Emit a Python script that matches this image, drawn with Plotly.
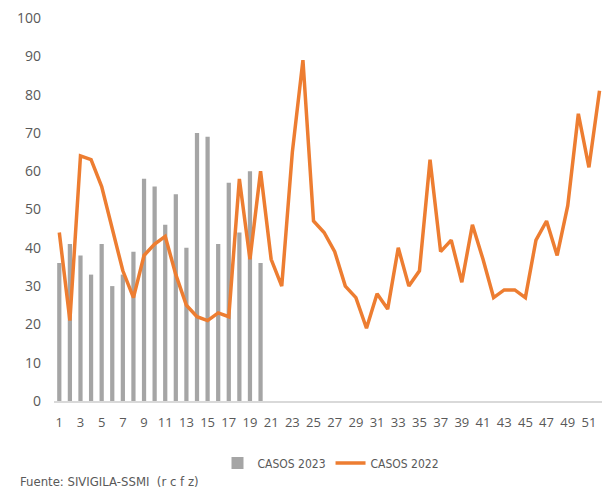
import plotly.graph_objects as go

weeks_2023 = list(range(1, 21))
casos_2023 = [36, 41, 38, 33, 41, 30, 33, 39, 58, 56, 46, 54, 40, 70, 69, 41, 57, 44, 60, 36]

weeks_2022 = list(range(1, 53))
casos_2022 = [44, 21, 64, 63, 56, 45, 34, 27, 38, 41, 43, 33, 25, 22, 21, 23, 22, 58, 37, 60,
              37, 30, 65, 89, 47, 44, 39, 30, 27, 19, 28, 24, 40, 30, 34, 63, 39, 42, 31, 46,
              37, 27, 29, 29, 27, 42, 47, 38, 51, 75, 61, 81]

x_ticks = list(range(1, 52, 2))
y_ticks = list(range(0, 101, 10))

narrow = "Liberation Sans Narrow, DejaVu Sans Condensed, Arial Narrow, sans-serif"

fig = go.Figure()
fig.add_trace(go.Bar(x=weeks_2023, y=casos_2023, name="CASOS 2023",
                     marker=dict(color="#A5A5A5", line=dict(width=0))))
fig.add_trace(go.Scatter(x=weeks_2022, y=casos_2022, name="CASOS 2022", mode="lines",
                         line=dict(color="#ED7D31", width=3.5)))

fig.update_layout(
    width=602, height=481,
    margin=dict(l=46, r=2, t=10, b=88, autoexpand=False),
    paper_bgcolor="white", plot_bgcolor="white",
    bargap=0.6,
    showlegend=True,
    legend=dict(orientation="h", x=0.5, xanchor="center", y=-0.162, yanchor="middle",
                font=dict(family=narrow, size=12, color="#595959"),
                itemwidth=30, traceorder="normal"),
    font=dict(family="Open Sans, sans-serif", color="#595959"),
)
fig.update_xaxes(range=[0.5, 52.8], tickvals=x_ticks, ticktext=[str(v) for v in x_ticks],
                 showgrid=False, zeroline=False, showline=True, linecolor="#D9D9D9", linewidth=1.5,
                 ticks="", tickfont=dict(size=13, color="#595959"), ticklabelstandoff=9,
                 automargin=False, fixedrange=True)
fig.update_yaxes(range=[0, 100], tickvals=y_ticks, ticktext=[str(v) for v in y_ticks],
                 showgrid=False, zeroline=False, showline=False,
                 ticks="", tickfont=dict(size=14, color="#595959"), ticklabelstandoff=12,
                 ticklabeloverflow="allow", automargin=False, fixedrange=True)

fig.add_annotation(text="Fuente: SIVIGILA-SSMI  (r c f z)", xref="paper", yref="paper",
                   x=-36/554, y=(393-473)/383, xanchor="left", yanchor="middle", showarrow=False,
                   font=dict(family=narrow, size=13, color="#595959"))

fig.write_html("out.html")
